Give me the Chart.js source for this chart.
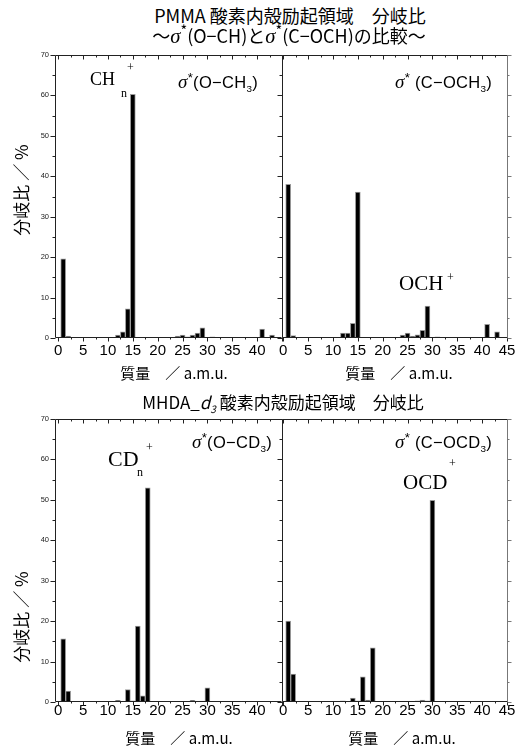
<!DOCTYPE html>
<html><head><meta charset="utf-8">
<script src="https://cdn.jsdelivr.net/npm/chart.js@4.4.1/dist/chart.umd.min.js"></script>
<style>
html,body{margin:0;padding:0;background:#fff;}
body{width:523px;height:749px;position:relative;overflow:hidden;font-family:"Noto Sans CJK JP","Noto Sans",sans-serif;color:#000;}
canvas{position:absolute;}
.t{position:absolute;white-space:nowrap;line-height:1;}
.c{transform:translateX(-50%);}
.jp{font-family:"Noto Sans CJK JP",sans-serif;}
.ser{font-family:"Liberation Serif","DejaVu Serif",serif;}
.sg{font-family:"Liberation Sans","Noto Sans",sans-serif;}
.sgm{font-style:italic;font-family:"Liberation Serif",serif;font-size:115%;}
sup,sub{font-size:60%;line-height:0;}
sup.st{font-size:80%;}
.ylab{position:absolute;white-space:nowrap;line-height:1;transform:translate(-50%,-50%) rotate(-90deg);font-size:17px;}
</style></head><body>
<canvas id="tl" width="292" height="335" style="left:0;top:45px"></canvas>
<canvas id="tr" width="251" height="335" style="left:272px;top:45px"></canvas>
<canvas id="bl" width="292" height="335" style="left:0;top:409px"></canvas>
<canvas id="br" width="251" height="335" style="left:272px;top:409px"></canvas>

<div class="t c jp" style="left:290px;top:6px;font-size:18px">PMMA 酸素内殻励起領域　分岐比</div>
<div class="t c jp" style="left:289px;top:26px;font-size:18px">～<span class="sgm">σ</span><sup class="st">*</sup>(O−CH)と<span class="sgm">σ</span><sup class="st">*</sup>(C−OCH)の比較～</div>
<div class="t c jp" style="left:283px;top:393px;font-size:17px">MHDA_<i>d</i><sub><i>3</i></sub> 酸素内殻励起領域　分岐比</div>

<div class="ylab jp" style="left:20px;top:190px">分岐比 ／ %</div>
<div class="ylab jp" style="left:20px;top:617px">分岐比 ／ %</div>

<div class="t c jp" style="left:174px;top:365px;font-size:15px">質量　／ a.m.u.</div>
<div class="t c jp" style="left:399px;top:365px;font-size:15px">質量　／ a.m.u.</div>
<div class="t c jp" style="left:179px;top:730px;font-size:15px">質量　／ a.m.u.</div>
<div class="t c jp" style="left:402px;top:730px;font-size:15px">質量　／ a.m.u.</div>

<!-- annotations -->
<div class="t ser" style="left:90px;top:70px;font-size:18px">CH</div>
<div class="t ser" style="left:121px;top:87px;font-size:12px">n</div>
<div class="t ser" style="left:127px;top:61px;font-size:12px">+</div>
<div class="t sg" style="left:178px;top:73px;font-size:16.5px;letter-spacing:0.3px"><span class="sgm">σ</span><sup class="st">*</sup>(O−CH<sub>3</sub>)</div>

<div class="t sg" style="left:395px;top:73px;font-size:16.5px;letter-spacing:0.3px"><span class="sgm">σ</span><sup class="st">*</sup> (C−OCH<sub>3</sub>)</div>
<div class="t ser" style="left:399px;top:273px;font-size:21px">OCH</div>
<div class="t ser" style="left:447px;top:271px;font-size:12px">+</div>

<div class="t ser" style="left:108px;top:448px;font-size:22px">CD</div>
<div class="t ser" style="left:137px;top:466px;font-size:12px">n</div>
<div class="t ser" style="left:146px;top:441px;font-size:12px">+</div>
<div class="t sg" style="left:192px;top:433px;font-size:16.5px;letter-spacing:0.3px"><span class="sgm">σ</span><sup class="st">*</sup>(O−CD<sub>3</sub>)</div>

<div class="t sg" style="left:395px;top:433px;font-size:16.5px;letter-spacing:0.3px"><span class="sgm">σ</span><sup class="st">*</sup> (C−OCD<sub>3</sub>)</div>
<div class="t ser" style="left:403px;top:472px;font-size:21px">OCD</div>
<div class="t ser" style="left:449px;top:457px;font-size:12px">+</div>

<script>
// ---- data ----
const massTL = [1, 2, 12, 13, 14, 15, 24, 25, 26, 27, 28, 29, 31, 41, 43];
const valTL  = [19.6, 0.5, 0.75, 1.5, 7.2, 60.3, 0.5, 0.75, 0.3, 0.75, 1.2, 2.5, 0.3, 2.2, 0.7];
const massTR = [1, 2, 12, 13, 14, 15, 24, 25, 26, 27, 28, 29, 31, 41, 43];
const valTR  = [38.0, 0.6, 1.2, 1.2, 3.6, 36.1, 0.7, 1.2, 0.5, 0.8, 1.9, 7.9, 0.3, 3.4, 1.5];
const massBL = [1, 2, 4, 12, 14, 15, 16, 17, 18, 27, 28, 29, 30];
const valBL  = [15.6, 2.7, 0.1, 0.4, 3.1, 0.3, 18.8, 1.5, 53.0, 0.4, 0.2, 0.2, 3.5];
const massBR = [1, 2, 12, 14, 15, 16, 17, 18, 27, 28, 29, 30];
const valBR  = [20.0, 6.9, 0.3, 1.0, 0.3, 6.2, 0.5, 13.4, 0.3, 0.5, 0.3, 49.9];
const xTickLabels = [0, 5, 10, 15, 20, 25, 30, 35, 40, 45];
const yTickLabels = [0, 10, 20, 30, 40, 50, 60, 70];

const framePlugin = {
  id: 'frame',
  afterDraw(chart) {
    const o = chart.options.plugins.frame;
    const {ctx, chartArea: a, scales: {x, y}} = chart;
    const L = Math.round(a.left) + 0.5, R = Math.round(a.right) - 0.5;
    const T = Math.round(a.top) + 0.5, B = Math.round(a.bottom) - 0.5;
    ctx.save();
    ctx.lineWidth = 1;
    ctx.strokeStyle = '#222';
    const ln = (x1, y1, x2, y2) => { ctx.beginPath(); ctx.moveTo(x1, y1); ctx.lineTo(x2, y2); ctx.stroke(); };
    ln(L, T, R, T); ln(L, B, R, B); ln(L, T, L, B);
    for (let v = 0; v <= 45; v += 2.5) {
      const px = Math.round(x.getPixelForValue(v)) + 0.5;
      if (px < a.left - 0.5 || px > a.right + 0.5) continue;
      const len = (v % 5 === 0) ? 4 : 2;
      ln(px, B, px, B + len);
      ln(px, T, px, T + len);
    }
    for (let v = 0; v <= 70; v += 5) {
      const py = Math.round(y.getPixelForValue(v)) + 0.5;
      const len = (v % 10 === 0) ? 5 : 3;
      ln(L - len, py, L, py);
    }
    if (o.rightLine) {
      ctx.strokeStyle = '#777';
      ln(R, T, R, B);
      for (let v = 0; v <= 70; v += 5) {
        const py = Math.round(y.getPixelForValue(v)) + 0.5;
        const len = (v % 10 === 0) ? 4 : 2;
        ln(R, py, R + len, py);
      }
    }
    ctx.restore();
  }
};

function panel(id, masses, vals, opt) {
  const data = masses.map((m, i) => ({x: m, y: vals[i]}));
  return new Chart(document.getElementById(id), {
    type: 'bar',
    data: { datasets: [{ data, backgroundColor: '#000', borderColor: '#9a9a9a', borderWidth: 1,
      barPercentage: 1.0, categoryPercentage: 1.0, borderSkipped: 'bottom' }] },
    plugins: [framePlugin],
    options: {
      responsive: false, animation: false, events: [],
      layout: { padding: { top: 10, right: opt.padRight, left: 0, bottom: 0 } },
      plugins: { legend: {display: false}, tooltip: {enabled: false},
        frame: { rightLine: opt.rightLine } },
      scales: {
        x: {
          type: 'linear', min: opt.xmin, max: opt.xmax, offset: false,
          grid: { display: false, drawTicks: false, offset: false }, border: { display: false },
          afterBuildTicks: s => { s.ticks = xTickLabels.filter(v => opt.xLabels.includes(v)).map(v => ({value: v})); },
          afterFit: s => { s.height = 42; s.paddingLeft = 0; s.paddingRight = 0; },
          ticks: { autoSkip: false, maxRotation: 0, padding: opt.xPad, color: '#000',
            font: { family: 'Liberation Sans', size: 15 } }
        },
        y: {
          type: 'linear', min: 0, max: 70,
          grid: { display: false, drawTicks: false }, border: { display: false },
          afterBuildTicks: s => { s.ticks = yTickLabels.map(v => ({value: v})); },
          afterFit: s => { s.width = opt.yWidth; s.paddingTop = 0; s.paddingBottom = 0; },
          ticks: { display: opt.yLabels, padding: 6, color: '#222',
            font: { family: 'Liberation Sans', size: 7.5 } }
        }
      }
    }
  });
}

const leftX = xTickLabels.filter(v => v !== 45);
panel('tl', massTL, valTL, { xmin: -0.65, xmax: 45, padRight: 10, yWidth: 55, yLabels: true, xLabels: leftX, xPad: 4, rightLine: false });
panel('tr', massTR, valTR, { xmin: -0.25, xmax: 45.2, padRight: 15, yWidth: 10, yLabels: false, xLabels: xTickLabels, xPad: 4, rightLine: true });
panel('bl', massBL, valBL, { xmin: -0.65, xmax: 45, padRight: 10, yWidth: 55, yLabels: true, xLabels: leftX, xPad: 0, rightLine: false });
panel('br', massBR, valBR, { xmin: -0.25, xmax: 45.2, padRight: 15, yWidth: 10, yLabels: false, xLabels: xTickLabels, xPad: 0, rightLine: true });
</script>
</body></html>
